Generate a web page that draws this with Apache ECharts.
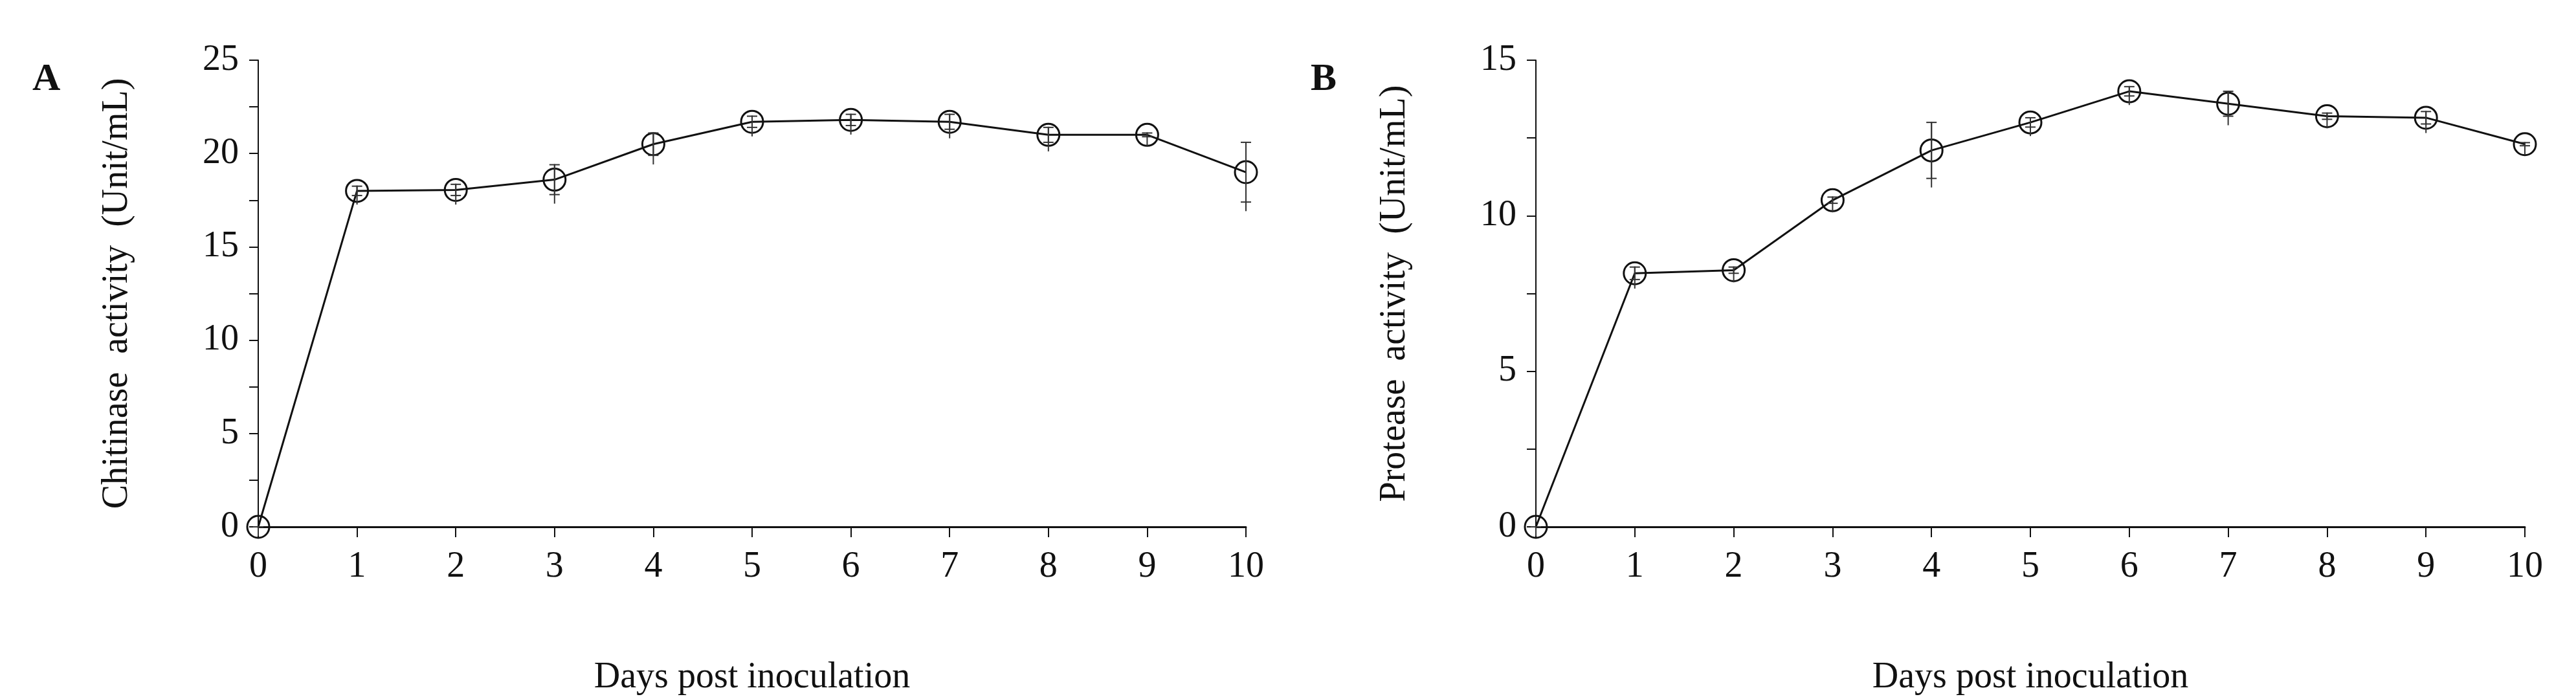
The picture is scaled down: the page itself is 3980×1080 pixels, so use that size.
<!DOCTYPE html>
<html><head><meta charset="utf-8">
<script src="https://cdn.jsdelivr.net/npm/echarts@6/dist/echarts.min.js"></script>
<style>html,body{margin:0;background:#fff}#c{width:3980px;height:1080px}</style>
</head><body><div id="c"></div>
<script>
// Days post inoculation
var days = [0, 1, 2, 3, 4, 5, 6, 7, 8, 9, 10];
// panel A: chitinase
var chitinase = [0, 18.0, 18.05, 18.6, 20.5, 21.7, 21.8, 21.7, 21.0, 21.0, 19.0];
var chitinaseErr = [0, 0.25, 0.3, 0.8, 0.6, 0.3, 0.3, 0.4, 0.4, 0.1, 1.6];
var chitinaseLetters = ['', 'd', 'd', 'cd', 'bc', 'ab', 'a', 'ab', 'ab', 'ab', 'bc'];
var chitinaseLetterY = [0, 20.9, 20.9, 21.45, 23.5, 24.5, 24.5, 24.5, 23.8, 23.8, 22.9];
// panel B: protease
var protease = [0, 8.15, 8.25, 10.5, 12.1, 13.0, 14.0, 13.6, 13.2, 13.15, 12.3];
var proteaseErr = [0, 0.2, 0.1, 0.1, 0.9, 0.15, 0.15, 0.4, 0.1, 0.2, 0.05];
var proteaseLetters = ['', 'd', 'd', 'c', 'b', 'ab', 'a', 'ab', 'ab', 'ab', 'b'];
var proteaseLetterY = [0, 9.94, 9.94, 12.15, 14.3, 14.7, 15.64, 15.3, 14.9, 14.85, 14.07];

var font = 'Liberation Serif';
var ink = '#111';

function xAxis(idx) {
  return {
    gridIndex: idx, type: 'value', min: 0, max: 10, interval: 1,
    name: 'Days post inoculation', nameLocation: 'middle', nameGap: 205,
    nameTextStyle: { fontFamily: font, fontSize: 56, color: ink },
    axisLine: { lineStyle: { color: ink, width: 3 } },
    axisTick: { inside: false, length: 16, lineStyle: { color: ink, width: 2 } },
    axisLabel: { fontFamily: font, fontSize: 56, color: ink, margin: 34 },
    splitLine: { show: false }
  };
}
function yAxis(idx, max, name) {
  return {
    gridIndex: idx, type: 'value', min: 0, max: max, interval: 2.5,
    name: name, nameLocation: 'middle', nameGap: 190,
    nameTextStyle: { fontFamily: font, fontSize: 56, color: ink },
    axisLine: { show: true, lineStyle: { color: ink, width: 2 } },
    axisTick: { show: true, length: 14, lineStyle: { color: ink, width: 2 } },
    axisLabel: { fontFamily: font, fontSize: 56, color: ink, margin: 30,
      formatter: function (v) { return v % 5 === 0 ? String(v) : ''; } },
    splitLine: { show: false }
  };
}
function errSeries(idx, vals, errs) {
  return {
    type: 'custom', xAxisIndex: idx, yAxisIndex: idx, z: 5,
    data: days.map(function (d, i) { return [d, vals[i] - errs[i], vals[i] + errs[i]]; }),
    renderItem: function (params, api) {
      var lo = api.coord([api.value(0), api.value(1)]);
      var hi = api.coord([api.value(0), api.value(2)]);
      var w = 8, st = { stroke: '#333', lineWidth: 2 };
      return { type: 'group', children: [
        { type: 'line', shape: { x1: lo[0], y1: lo[1] + 14, x2: hi[0], y2: hi[1] - 1 }, style: st },
        { type: 'line', shape: { x1: lo[0], y1: lo[1], x2: hi[0], y2: hi[1] }, style: st },
        { type: 'line', shape: { x1: lo[0] - w, y1: lo[1], x2: lo[0] + w, y2: lo[1] }, style: st },
        { type: 'line', shape: { x1: hi[0] - w, y1: hi[1], x2: hi[0] + w, y2: hi[1] }, style: st }
      ] };
    }
  };
}
function lineSeries(idx, vals) {
  return {
    type: 'line', xAxisIndex: idx, yAxisIndex: idx, z: 2, showSymbol: false,
    data: days.map(function (d, i) { return [d, vals[i]]; }),
    lineStyle: { color: ink, width: 3 }
  };
}
function markerSeries(idx, vals) {
  return {
    type: 'scatter', xAxisIndex: idx, yAxisIndex: idx, z: 4, clip: false,
    data: days.map(function (d, i) { return [d, vals[i]]; }),
    symbol: 'circle', symbolSize: 34,
    itemStyle: { color: 'rgba(255,255,255,0)', borderColor: ink, borderWidth: 3, opacity: 1 }
  };
}
function letterSeries(idx, ys, letters) {
  return {
    type: 'scatter', xAxisIndex: idx, yAxisIndex: idx, symbolSize: 1, clip: false,
    itemStyle: { opacity: 0 },
    data: days.map(function (d, i) { return { value: [d, ys[i]], name: letters[i] }; }),
    label: { show: true, position: 'inside', formatter: '{b}',
      fontFamily: font, fontSize: 58, color: ink }
  };
}

var chart = echarts.init(document.getElementById('c'));
chart.setOption({
  animation: false,
  backgroundColor: '#fff',
  title: [
    { text: 'A', left: 45, top: 88, textStyle: { fontFamily: font, fontSize: 60, fontWeight: 'bold', color: ink } },
    { text: 'B', left: 2020, top: 88, textStyle: { fontFamily: font, fontSize: 60, fontWeight: 'bold', color: ink } }
  ],
  grid: [
    { left: 399, right: 2055, top: 93, bottom: 259 },
    { left: 2373, right: 79, top: 93, bottom: 262 }
  ],
  xAxis: [xAxis(0), xAxis(1)],
  yAxis: [yAxis(0, 25, 'Chitinase  activity  (Unit/mL)'), yAxis(1, 15, 'Protease  activity  (Unit/mL)')],
  series: [
    lineSeries(0, chitinase), markerSeries(0, chitinase), errSeries(0, chitinase, chitinaseErr), letterSeries(0, chitinaseLetterY, chitinaseLetters),
    lineSeries(1, protease), markerSeries(1, protease), errSeries(1, protease, proteaseErr), letterSeries(1, proteaseLetterY, proteaseLetters)
  ]
});
</script></body></html>
